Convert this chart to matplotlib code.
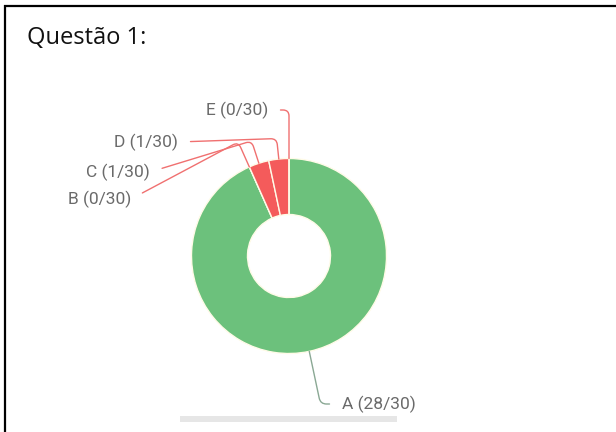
import numpy as np
import matplotlib.pyplot as plt
from matplotlib.patches import Rectangle

# answers for question 1
options = ['A', 'B', 'C', 'D', 'E']
votes = [28, 0, 1, 1, 0]
total = 30
colors = ['#6cc17c', '#f45b5b', '#f45b5b', '#f45b5b', '#f45b5b']
line_colors = ['#8aa894', '#f07070', '#f07070', '#f07070', '#f07070']

W, H = 616, 432
fig = plt.figure(figsize=(W / 100, H / 100), dpi=100)
ax = fig.add_axes([0, 0, 1, 1])

# frame of the card (open at the bottom)
ax.plot([5, 5], [0, H - 5], color='black', lw=1.6, solid_capstyle='butt')
ax.plot([4, W], [H - 6, H - 6], color='black', lw=1.6, solid_capstyle='butt')

ax.text(27, H - 38, 'Questão 1:', fontsize=17, family='Open Sans',
        color='#111111', va='center', ha='left')

cx, cy = 289, H - 256
r = 97.5
ax.pie(votes, colors=colors, startangle=90, counterclock=False,
       center=(cx, cy), radius=r, frame=True,
       wedgeprops=dict(width=r - 41.5, edgecolor='#fffbe8', linewidth=1.0))
ax.set_xlim(0, W)
ax.set_ylim(0, H)
ax.set_aspect('equal')
ax.axis('off')

# label positions (text anchor) and connector start angle
label_pos = {
    'A': (342, H - 404, 'left', 0),
    'B': (131, H - 199, 'right', 28),
    'C': (150, H - 172, 'right', 17),
    'D': (178, H - 142, 'right', 2),
    'E': (268, H - 110, 'right', 0),
}

fracs = np.array(votes) / total
start = 90.0
for opt, v, f, lc in zip(options, votes, fracs, line_colors):
    sweep = 360.0 * f
    mid = start - sweep / 2
    start -= sweep
    px = cx + r * np.cos(np.radians(mid))
    py = cy + r * np.sin(np.radians(mid))
    tx, ty, ha, angA = label_pos[opt]
    relx = 0 if ha == 'left' else 1
    ax.annotate(f'{opt} ({v}/{total})', xy=(px, py), xytext=(tx, ty),
                ha=ha, va='center', fontsize=12.5, family='Roboto',
                color='#6a6a6a',
                arrowprops=dict(arrowstyle='-', color=lc, lw=1.0,
                                relpos=(relx, 0.5), shrinkA=7, shrinkB=0,
                                connectionstyle=f'angle,angleA={angA},angleB={mid},rad=6'))

# scrollbar strip under the chart
ax.add_patch(Rectangle((180, H - 422), 217, 6, color='#e6e6e6', lw=0))

fig.savefig('out.png', dpi=100)
